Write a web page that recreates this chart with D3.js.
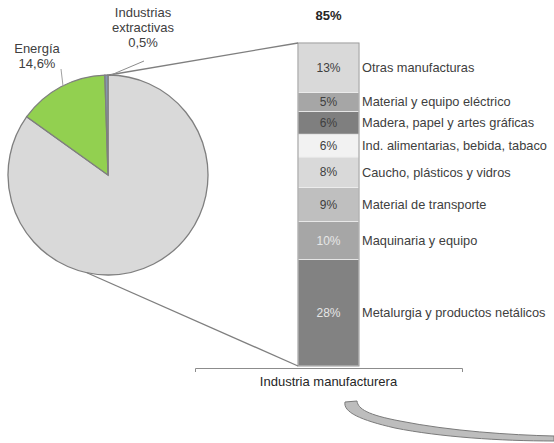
<!DOCTYPE html>
<html><head><meta charset="utf-8">
<script src="https://cdn.jsdelivr.net/npm/d3@7/dist/d3.min.js"></script>
<style>body{margin:0;background:#fff}svg{display:block}text{font-family:"Liberation Sans",Arial,sans-serif}</style>
</head><body>
<script>
// Pie data
const pieLabels = ["Industria manufacturera", "Energía", "Industrias extractivas"];
const pieValues = [84.9, 14.6, 0.5];
const pieColors = ["#d9d9d9", "#92d050", "#8497b0"];

// Stacked bar data (bottom to top)
const barCategory = "Industria manufacturera";
const barTotalLabel = "85%";
const segLabels = ["Metalurgia  y productos netálicos", "Maquinaria y equipo", "Material de transporte",
  "Caucho, plásticos y vidros", "Ind. alimentarias, bebida, tabaco", "Madera, papel y artes gráficas",
  "Material y equipo eléctrico", "Otras manufacturas"];
const segValues = [28, 10, 9, 8, 6, 6, 5, 13];
const segColors = ["#828282", "#a6a6a6", "#bfbfbf", "#d9d9d9", "#f2f2f2", "#7f7f7f", "#a6a6a6", "#d9d9d9"];
const segTextColors = ["#e6e6e6", "#e6e6e6", "#404040", "#404040", "#404040", "#404040", "#404040", "#404040"];

const W = 554, H = 443;
const svg = d3.select("body").append("svg").attr("width", W).attr("height", H);

// ---- Pie ----
const cx = 108, cy = 175, r = 100;
const pie = d3.pie().sort(null).value(d => d)(pieValues);
const arc = d3.arc().innerRadius(0).outerRadius(r);
const gp = svg.append("g").attr("transform", `translate(${cx},${cy})`);
gp.selectAll("path").data(pie).join("path")
  .attr("d", arc).attr("fill", (d, i) => pieColors[i])
  .attr("stroke", "#7f7f7f").attr("stroke-width", 1.3);

function pt(a, rr) { return [cx + rr * Math.sin(a), cy - rr * Math.cos(a)]; }

// ---- Bar ----
const x = d3.scaleBand().domain([barCategory]).range([195, 462]).padding(0.628);
const y = d3.scaleLinear().domain([0, d3.sum(segValues)]).range([366, 43]);
let acc = 0;
const segs = segValues.map((v, i) => { const s = { v, i, y0: acc, y1: acc + v }; acc += v; return s; });
const gb = svg.append("g");
gb.selectAll("rect").data(segs).join("rect")
  .attr("x", x(barCategory)).attr("width", x.bandwidth())
  .attr("y", d => y(d.y1)).attr("height", d => y(d.y0) - y(d.y1))
  .attr("fill", d => segColors[d.i]).attr("stroke", "#eeeeee").attr("stroke-width", 0.8);
gb.append("rect").attr("x", x(barCategory)).attr("width", x.bandwidth())
  .attr("y", y(d3.sum(segValues))).attr("height", y(0) - y(d3.sum(segValues)))
  .attr("fill", "none").attr("stroke", "#9a9a9a").attr("stroke-width", 1);
const bx = x(barCategory) + x.bandwidth() / 2;
gb.selectAll("text.pct").data(segs).join("text").attr("class", "pct")
  .attr("x", bx).attr("y", d => (y(d.y0) + y(d.y1)) / 2).attr("dy", "0.35em")
  .attr("text-anchor", "middle").attr("font-size", 12)
  .attr("fill", d => segTextColors[d.i]).text(d => d.v + "%");
gb.selectAll("text.lab").data(segs).join("text").attr("class", "lab")
  .attr("x", x(barCategory) + x.bandwidth() + 3).attr("y", d => (y(d.y0) + y(d.y1)) / 2).attr("dy", "0.35em")
  .attr("font-size", 12.8).attr("fill", "#404040").text(d => segLabels[d.i]);
svg.append("text").attr("x", bx).attr("y", 20).attr("text-anchor", "middle")
  .attr("font-size", 13).attr("font-weight", "bold").attr("fill", "#262626").text(barTotalLabel);

// axis
const ax = svg.append("g").attr("transform", `translate(0,${y(0) + 2})`)
  .call(d3.axisBottom(x).tickSize(0).tickSizeOuter(4).tickPadding(9));
ax.select(".domain").attr("stroke", "#8c8c8c");
ax.selectAll("text").attr("font-size", 13).attr("fill", "#262626")
  .style("font-family", '"Liberation Sans",Arial,sans-serif');

// connector lines
const topPt = pt(0, r);
const botPt = pt(192.2 * Math.PI / 180, r);
svg.append("line").attr("x1", topPt[0] + 1).attr("y1", topPt[1]).attr("x2", x(barCategory)).attr("y2", y(d3.sum(segValues)))
  .attr("stroke", "#7f7f7f").attr("stroke-width", 1.3);
svg.append("line").attr("x1", botPt[0]).attr("y1", botPt[1]).attr("x2", x(barCategory)).attr("y2", y(0))
  .attr("stroke", "#7f7f7f").attr("stroke-width", 1.3);

// pie labels
const tEn = svg.append("text").attr("font-size", 13).attr("fill", "#404040").attr("text-anchor", "middle");
tEn.append("tspan").attr("x", 37).attr("y", 53).text(pieLabels[1]);
tEn.append("tspan").attr("x", 37).attr("y", 68).text(pieValues[1].toString().replace(".", ",") + "%");
svg.append("line").attr("x1", 61).attr("y1", 69).attr("x2", 63).attr("y2", 86)
  .attr("stroke", "#a0a0a0").attr("stroke-width", 1);

const tEx = svg.append("text").attr("font-size", 13).attr("fill", "#404040").attr("text-anchor", "middle");
tEx.append("tspan").attr("x", 143).attr("y", 17).text("Industrias");
tEx.append("tspan").attr("x", 143).attr("y", 32).text("extractivas");
tEx.append("tspan").attr("x", 143).attr("y", 47).text(pieValues[2].toString().replace(".", ",") + "%");
svg.append("line").attr("x1", 144).attr("y1", 61).attr("x2", 111).attr("y2", 75)
  .attr("stroke", "#8c8c8c").attr("stroke-width", 1);

// curved arrow shape
svg.append("path")
  .attr("d", "M345,402 L357,401 C358,409 368,415 400,421 C450,431 510,435 554,436 L554,441 C500,441 440,437 395,428 C360,420 343,412 345,402 Z")
  .attr("fill", "#bdbdbd").attr("stroke", "#7a7a7a").attr("stroke-width", 1);
</script>
</body></html>
